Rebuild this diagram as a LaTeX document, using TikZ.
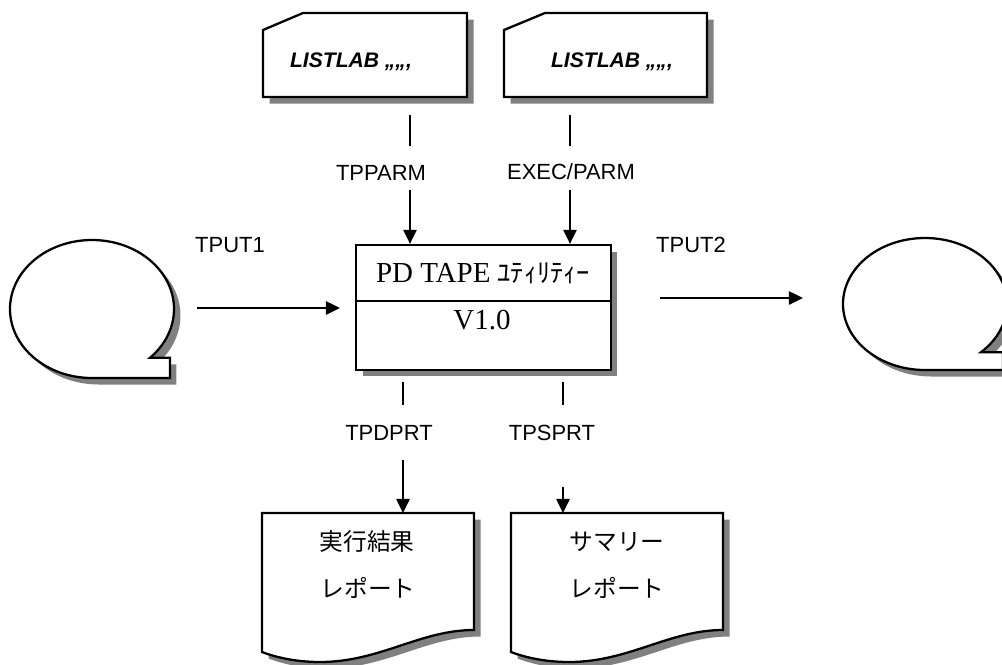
\documentclass[tikz,border=0pt]{standalone}
\usepackage{fontspec}
\setsansfont{Liberation Sans}
\newfontfamily\serifbox{Liberation Serif}
\newfontfamily\jpfont{Noto Sans CJK JP}
\usetikzlibrary{shadows,arrows.meta}

\tikzset{
  boxshadow/.style={fill=white, draw=black, line width=1.3pt,
    drop shadow={shadow xshift=0.13cm, shadow yshift=-0.13cm, opacity=1, fill=black!50}},
  flow/.style={line width=1.2pt},
  arr/.style={flow, -{Triangle[length=8pt,width=7.5pt]}},
  lab/.style={font=\sffamily\fontsize{12.5}{15}\selectfont, inner sep=0pt},
  cardtext/.style={font=\sffamily\bfseries\itshape\fontsize{12}{14}\selectfont, inner sep=0pt},
  boxtext/.style={font=\serifbox\fontsize{16.5}{19}\selectfont, inner sep=0pt},
  reptext/.style={font=\jpfont\fontsize{13.5}{16}\selectfont, inner sep=0pt}
}

\begin{document}
\begin{tikzpicture}[x=0.02cm,y=-0.02cm]
\useasboundingbox (0,0) rectangle (1002,664);
% parameter cards
\filldraw [boxshadow] (263,30) -- (303,13) -- (467,13) -- (467,97) -- (263,97) -- cycle;
\node [cardtext] (card1) at (351,62) {LISTLAB ,,,,,};
\filldraw [boxshadow] (504,30) -- (545,13) -- (707,13) -- (707,97) -- (504,97) -- cycle;
\node [cardtext] (card2) at (612,62) {LISTLAB ,,,,,};
% tapes
\filldraw [boxshadow] (92,378) arc (90:405:82 and 69) -- (170,357.8) -- (170,378) -- cycle;
\filldraw [boxshadow] (925,370) arc (90:407:82 and 66) -- (1003,352.3) -- (1003,370) -- cycle;
% utility
\node [boxshadow, minimum width=5.1cm, minimum height=2.5cm, inner sep=0pt] (util) at (483.5,307.5) {};
\coordinate (divy) at (0,301);
\draw [flow] (util.west |- divy) -- (util.east |- divy);
\node [boxtext] (title) at (483,273) {PD TAPE {\jpfont\fontsize{15}{18}\selectfont ﾕﾃｨﾘﾃｨｰ}};
\node [boxtext] (ver) at (482,320) {V1.0};
% reports
\filldraw [boxshadow] (262,513) -- (474,513) -- (474,630) .. controls (420,630) and (380,662) .. (320,662) .. controls (295,662) and (275,657) .. (262,652) -- cycle;
\coordinate (rep1) at (368,513);
\node [reptext] (rep1a) at (367,542) {実行結果};
\node [reptext] (rep1b) at (368,588) {レポート};
\filldraw [boxshadow] (511,513) -- (723,513) -- (723,630) .. controls (669,630) and (629,662) .. (569,662) .. controls (544,662) and (524,657) .. (511,652) -- cycle;
\coordinate (rep2) at (617,513);
\node [reptext] (rep2a) at (617,542) {サマリー};
\node [reptext] (rep2b) at (617,588) {レポート};
% connectors
\coordinate (pa1) at (410,115);
\coordinate (pa2) at (410,146);
\coordinate (pa3) at (410,190);
\draw [flow] (pa1) -- (pa2);
\draw [arr] (pa3) -- (pa3 |- util.north);
\node [lab] (tpparm) at (381,173) {TPPARM};
\coordinate (pb1) at (570,115);
\coordinate (pb2) at (570,146);
\coordinate (pb3) at (570,190);
\draw [flow] (pb1) -- (pb2);
\draw [arr] (pb3) -- (pb3 |- util.north);
\node [lab] (execparm) at (571,172) {EXEC/PARM};
\coordinate (in1) at (197,308);
\coordinate (in2) at (340,308);
\draw [arr] (in1) -- (in2);
\node [lab] (tput1) at (230,245) {TPUT1};
\coordinate (out1) at (660,298);
\coordinate (out2) at (803,298);
\draw [arr] (out1) -- (out2);
\node [lab] (tput2) at (691,245) {TPUT2};
\coordinate (qa1) at (403,382);
\coordinate (qa2) at (403,405);
\coordinate (qa3) at (403,460);
\draw [flow] (qa1) -- (qa2);
\draw [arr] (qa3) -- (qa3 |- rep1);
\node [lab] (tpdprt) at (389,433) {TPDPRT};
\coordinate (qb1) at (563,382);
\coordinate (qb2) at (563,405);
\coordinate (qb3) at (563,487);
\draw [flow] (qb1) -- (qb2);
\draw [arr] (qb3) -- (qb3 |- rep2);
\node [lab] (tpsprt) at (552,433) {TPSPRT};
\end{tikzpicture}
\end{document}
